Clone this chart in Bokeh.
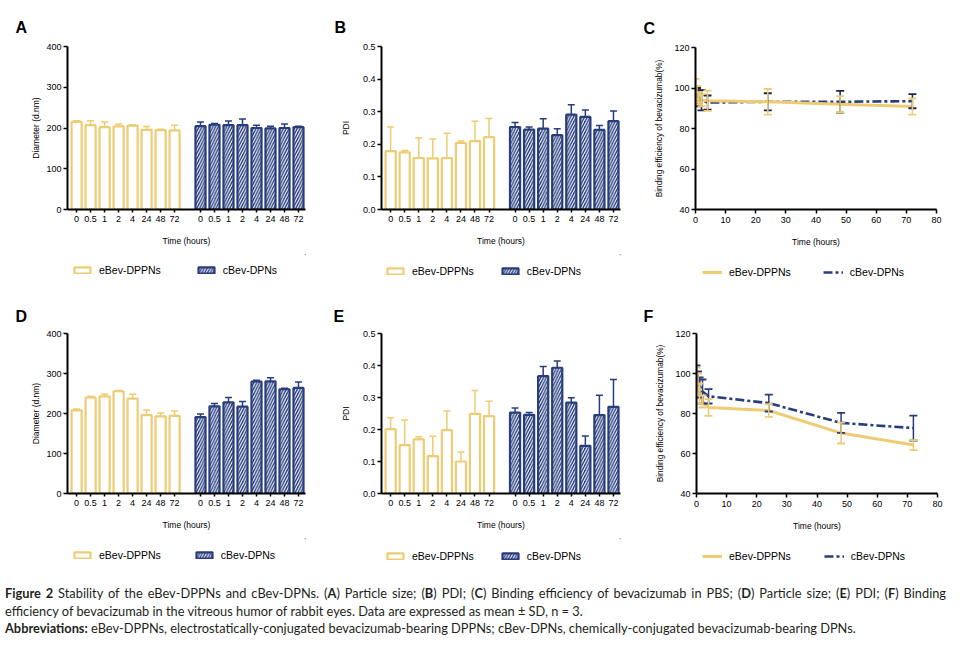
from bokeh.plotting import figure
from bokeh.models import (Range1d, FixedTicker, Legend, LegendItem, Whisker,
                          ColumnDataSource, Div, TeeHead, PrintfTickFormatter)
from bokeh.layouts import row, column
from bokeh.embed import file_html
from bokeh.resources import INLINE

# ---------------- data ----------------
time_labels = ["0", "0.5", "1", "2", "4", "24", "48", "72"]
times = [0, 0.5, 1, 2, 4, 24, 48, 72]

# A: particle size (PBS)
a_e_mean = [215, 207, 202, 204, 206, 195.5, 195, 194]
a_e_sd = [3, 11, 13, 6, 2, 8, 2, 13]
a_c_mean = [204.5, 208, 207, 207, 200, 199, 200, 202]
a_c_sd = [10, 3, 10, 15, 7, 5, 10, 2]
# B: PDI (PBS)
b_e_mean = [0.179, 0.175, 0.158, 0.157, 0.158, 0.204, 0.210, 0.222]
b_e_sd = [0.074, 0.006, 0.062, 0.059, 0.076, 0.006, 0.061, 0.057]
b_c_mean = [0.253, 0.245, 0.248, 0.228, 0.291, 0.284, 0.244, 0.271]
b_c_sd = [0.014, 0.008, 0.030, 0.020, 0.030, 0.021, 0.014, 0.031]
# C: binding efficiency (PBS)
c_e_mean = [99.5, 97, 95, 94, 93.7, 93.2, 92.0, 90.9]
c_e_sd = [5, 4, 3, 3, 5, 6.3, 4, 4]
c_c_mean = [97, 96, 95, 94, 92.8, 93.2, 93.2, 93.5]
c_c_sd = [4, 4, 4, 5, 3.5, 4.2, 5.4, 3.5]
# D: particle size (vitreous)
d_e_mean = [208, 240, 243, 255.6, 237, 196, 193, 194]
d_e_sd = [3, 3, 6, 2, 11, 13, 8, 12]
d_c_mean = [191, 218, 228, 217, 280, 280.5, 260.6, 264]
d_c_sd = [8, 7, 12, 13, 3, 9, 2.5, 15]
# E: PDI (vitreous)
e_e_mean = [0.201, 0.151, 0.169, 0.117, 0.198, 0.100, 0.249, 0.242]
e_e_sd = [0.036, 0.079, 0.008, 0.062, 0.060, 0.030, 0.073, 0.046]
e_c_mean = [0.253, 0.246, 0.367, 0.393, 0.284, 0.149, 0.245, 0.271]
e_c_sd = [0.014, 0.007, 0.030, 0.021, 0.015, 0.031, 0.062, 0.085]
# F: binding efficiency (vitreous)
f_e_mean = [98, 96, 90, 86, 83, 81.5, 70.2, 64.2]
f_e_sd = [5, 4, 5, 3, 4.2, 3.2, 5.2, 2.5]
f_c_mean = [100, 97, 93, 91, 88.6, 85.2, 75.3, 72.7]
f_c_sd = [4, 4, 5, 6, 3.6, 4.2, 5, 6.2]

series_names = ["eBev-DPPNs", "cBev-DPNs"]

YEL = "#EECC74"
NAVY = "#283D7D"
CAPDARK = "#1C2650"
FONT = "Liberation Sans"

SP = 20  # bar slot
E_OFF = 13
C_OFF = 190
X_MAX = 340
e_pos = [E_OFF + SP * i for i in range(len(time_labels))]
c_pos = [C_OFF + SP * i for i in range(len(time_labels))]

BAX = 45     # space under each frame for the x axis

E_BAR = dict(fill_color="white", line_color=YEL, line_width=2.2)
C_BAR = dict(fill_color=NAVY, line_color=NAVY, line_width=2.2, hatch_pattern="/",
             hatch_color="white", hatch_scale=5.5, hatch_weight=1.1)
E_LINE = dict(line_color=YEL, line_width=3)
C_LINE = dict(line_color=NAVY, line_width=2.6, line_dash="9 3 3 3")


def style_axes(p, ylabel, ylabel_standoff, ylabel_size="8.5px"):
    for ax in p.axis:
        ax.axis_line_width = 2
        ax.axis_line_color = "black"
        ax.major_tick_line_width = 1.5
        ax.major_tick_in = 0
        ax.major_tick_out = 4
        ax.minor_tick_line_color = None
        ax.major_label_text_font = FONT
        ax.major_label_text_font_size = "9px"
        ax.major_label_text_color = "black"
        ax.major_label_standoff = 2
        ax.axis_label_text_font = FONT
        ax.axis_label_text_font_size = "8.5px"
        ax.axis_label_text_font_style = "normal"
        ax.axis_label_text_color = "black"
    p.xaxis.axis_label = "Time (hours)"
    p.xaxis.axis_label_standoff = 11
    p.xaxis.major_label_standoff = 3
    p.yaxis.axis_label = ylabel
    p.yaxis.axis_label_standoff = ylabel_standoff
    p.yaxis.axis_label_text_font_size = ylabel_size
    p.xgrid.visible = False
    p.ygrid.visible = False
    p.outline_line_color = None


def set_letter(p, letter, dx, standoff):
    p.title.text = letter
    p.title.align = "left"
    p.title.offset = dx
    p.title.standoff = standoff
    p.title.text_font = FONT
    p.title.text_font_style = "bold"
    p.title.text_font_size = "16px"
    p.title.text_color = "black"


def make_fig(W, H, L, R, T, B, xr, yr):
    return figure(width=W, height=H, output_backend="svg", toolbar_location=None,
                  x_range=xr, y_range=yr,
                  min_border_left=L, min_border_right=R, min_border_top=T, min_border_bottom=B,
                  background_fill_color="white", border_fill_color="white")


def legend_strip(W, L, R, H, kind, gx, center_y, spacing):
    # strip whose frame is aligned under the panel's frame
    q = figure(width=W, height=H, output_backend="svg", toolbar_location=None,
               x_range=Range1d(0, 1), y_range=Range1d(0, 1), x_axis_type=None, y_axis_type=None,
               min_border_left=L, min_border_right=R, min_border_top=0, min_border_bottom=0,
               background_fill_color="white", border_fill_color="white")
    q.outline_line_color = None
    q.xgrid.visible = False
    q.ygrid.visible = False
    if kind == "bar":
        r_e = q.vbar(x=[5], top=[5], bottom=[4], width=0.1, **E_BAR)
        r_c = q.vbar(x=[5], top=[5], bottom=[4], width=0.1, **C_BAR)
    else:
        r_e = q.line(x=[5, 6], y=[5, 5], **E_LINE)
        r_c = q.line(x=[5, 6], y=[5, 5], **C_LINE)
    lh = 12
    lg = Legend(items=[LegendItem(label=series_names[0], renderers=[r_e]),
                       LegendItem(label=series_names[1], renderers=[r_c])],
                orientation="horizontal", location=(gx, H - center_y - lh / 2),
                glyph_width=20, glyph_height=8, label_height=lh, label_width=10,
                label_standoff=7, spacing=spacing, padding=0, margin=0,
                border_line_color=None, background_fill_alpha=0,
                label_text_font=FONT, label_text_font_size="10.5px", label_text_color="black")
    q.add_layout(lg, "center")
    return q


def bar_panel(W, T, FH, L, R, SH, em, es, cm, cs, ymax, ystep, ylabel, ylab_so, yfmt,
              letter, ldx, lso, lg_gx, lg_cy, lg_sp):
    p = make_fig(W, T + FH + BAX, L, R, T, BAX, Range1d(0, X_MAX), Range1d(0, ymax))
    p.vbar(x=e_pos, top=em, bottom=0, width=SP * 0.72, **E_BAR)
    p.vbar(x=c_pos, top=cm, bottom=0, width=SP * 0.72, **C_BAR)
    for pos, m, s, col in ((e_pos, em, es, YEL), (c_pos, cm, cs, NAVY)):
        src = ColumnDataSource(dict(base=pos, lower=m, upper=[a + b for a, b in zip(m, s)]))
        p.add_layout(Whisker(source=src, base="base", lower="lower", upper="upper",
                             line_color=col, line_width=1.5, lower_head=None,
                             upper_head=TeeHead(size=7, line_color=col, line_width=1.5),
                             level="glyph"))
    n = int(round(ymax / ystep))
    p.yaxis.ticker = FixedTicker(ticks=[round(i * ystep, 4) for i in range(n + 1)])
    if yfmt:
        p.yaxis.formatter = PrintfTickFormatter(format=yfmt)
    p.xaxis.ticker = FixedTicker(ticks=e_pos + c_pos)
    p.xaxis.major_label_overrides = {pos: lab for pos, lab in
                                     zip(e_pos + c_pos, time_labels + time_labels)}
    style_axes(p, ylabel, ylab_so)
    p.xaxis.major_tick_out = 3
    set_letter(p, letter, ldx, lso)
    q = legend_strip(W, L, R, SH, "bar", lg_gx, lg_cy, lg_sp)
    return column(p, q)


def line_panel(W, T, FH, L, R, SH, em, es, cm, cs, letter, ldx, lso, lg_gx, lg_cy, lg_sp,
               cap_c):
    p = make_fig(W, T + FH + BAX, L, R, T, BAX, Range1d(0, 80), Range1d(40, 120))
    p.line(times, cm, **C_LINE)
    p.line(times, em, **E_LINE)
    for m, s, col in ((cm, cs, cap_c), (em, es, YEL)):
        src = ColumnDataSource(dict(base=times, lower=[a - b for a, b in zip(m, s)],
                                    upper=[a + b for a, b in zip(m, s)]))
        p.add_layout(Whisker(source=src, base="base", lower="lower", upper="upper",
                             line_color=col, line_width=1.5,
                             lower_head=TeeHead(size=8, line_color=col, line_width=1.8),
                             upper_head=TeeHead(size=8, line_color=col, line_width=1.8),
                             level="glyph"))
    p.xaxis.ticker = FixedTicker(ticks=list(range(0, 81, 10)))
    p.yaxis.ticker = FixedTicker(ticks=list(range(40, 121, 20)))
    style_axes(p, "Binding efficiency of bevacizumab(%)", 7, "8.3px")
    set_letter(p, letter, ldx, lso)
    q = legend_strip(W, L, R, SH, "line", lg_gx, lg_cy, lg_sp)
    return column(p, q)


S1 = 40  # legend strip height, top row
S2 = 47  # legend strip height, bottom row
# top row: frames at page y 46..209; legend centre at ~270
pA = bar_panel(320, 46, 163, 67, 15, S1, a_e_mean, a_e_sd, a_c_mean, a_c_sd, 400, 100,
               "Diameter (d.nm)", 2, None, "A", -52, 21, 5, 16, 35)
pB = bar_panel(310, 46, 163, 61, 10, S1, b_e_mean, b_e_sd, b_c_mean, b_c_sd, 0.5, 0.1,
               "PDI", 9, "%.1f", "B", -47, 21, 4, 17, 26)
pC = line_panel(342, 47, 162, 65, 36, S1, c_e_mean, c_e_sd, c_c_mean, c_c_sd,
                "C", -52, 22, 7, 18, 32, CAPDARK)
# bottom row starts at page y 294: frames 333..493
pD = bar_panel(320, 39, 160, 67, 15, S2, d_e_mean, d_e_sd, d_c_mean, d_c_sd, 400, 100,
               "Diameter (d.nm)", 2, None, "D", -52, 17, 5, 17, 33)
pE = bar_panel(310, 39, 160, 61, 10, S2, e_e_mean, e_e_sd, e_c_mean, e_c_sd, 0.5, 0.1,
               "PDI", 9, "%.1f", "E", -48, 17, 4, 18, 26)
pF = line_panel(342, 39, 160, 66, 35, S2, f_e_mean, f_e_sd, f_c_mean, f_c_sd,
                "F", -53, 17, 6, 18, 33, NAVY)

caption = Div(text="""
<div style="font-family:'Lato'; font-size:12.8px; line-height:17.5px; color:#231f20; margin-top:-5px; padding-left:0px;">
<div style="width:941px; text-align:justify; text-align-last:justify; white-space:normal;"><b>Figure 2</b> Stability of the eBev-DPPNs and cBev-DPNs. (<b>A</b>) Particle size; (<b>B</b>) PDI; (<b>C</b>) Binding efficiency of bevacizumab in PBS; (<b>D</b>) Particle size; (<b>E</b>) PDI; (<b>F</b>) Binding</div>
<div style="white-space:nowrap;">efficiency of bevacizumab in the vitreous humor of rabbit eyes. Data are expressed as mean &plusmn; SD, n = 3.</div>
<div style="white-space:nowrap;"><b>Abbreviations:</b> eBev-DPPNs, electrostatically-conjugated bevacizumab-bearing DPPNs; cBev-DPNs, chemically-conjugated bevacizumab-bearing DPNs.</div>
</div>
""", width=964, height=70)

layout = column(row(pA, pB, pC), row(pD, pE, pF), caption)
open("out.html", "w").write(file_html(layout, INLINE))
